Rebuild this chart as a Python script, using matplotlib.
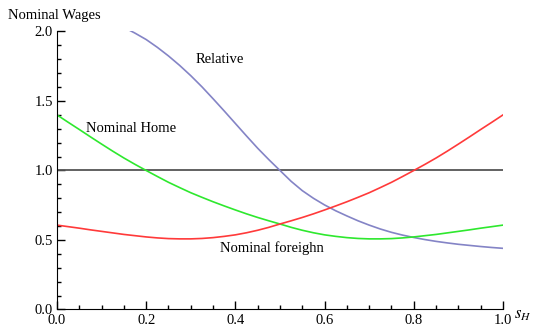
import matplotlib
matplotlib.use("Agg")
import matplotlib.pyplot as plt
from matplotlib.ticker import MultipleLocator

# values, every 0.025 along s_H
s_h = [0.000, 0.025, 0.050, 0.075, 0.100, 0.125, 0.150, 0.175, 0.200, 0.225,
       0.250, 0.275, 0.300, 0.325, 0.350, 0.375, 0.400, 0.425, 0.450, 0.475,
       0.500, 0.525, 0.550, 0.575, 0.600, 0.625, 0.650, 0.675, 0.700, 0.725,
       0.750, 0.775, 0.800, 0.825, 0.850, 0.875, 0.900, 0.925, 0.950, 0.975,
       1.000]
nominal_foreign = [0.607, 0.596, 0.585, 0.573, 0.562, 0.551, 0.540, 0.531, 0.522, 0.515,
                   0.510, 0.508, 0.508, 0.511, 0.517, 0.526, 0.537, 0.552, 0.570, 0.591,
                   0.615, 0.638, 0.662, 0.688, 0.716, 0.745, 0.775, 0.807, 0.840, 0.877,
                   0.915, 0.957, 1.000, 1.044, 1.090, 1.139, 1.190, 1.242, 1.295, 1.347,
                   1.400]
nominal_home = [1.400, 1.347, 1.295, 1.242, 1.190, 1.139, 1.090, 1.044, 1.000, 0.957,
                0.915, 0.877, 0.840, 0.807, 0.775, 0.745, 0.716, 0.688, 0.662, 0.638,
                0.615, 0.591, 0.570, 0.552, 0.537, 0.526, 0.517, 0.511, 0.508, 0.508,
                0.510, 0.515, 0.522, 0.531, 0.540, 0.551, 0.562, 0.573, 0.585, 0.596,
                0.607]
relative = [2.230, 2.200, 2.170, 2.140, 2.105, 2.070, 2.030, 1.988, 1.942, 1.886,
            1.824, 1.756, 1.682, 1.602, 1.516, 1.428, 1.338, 1.248, 1.160, 1.078,
            1.000, 0.922, 0.855, 0.800, 0.752, 0.710, 0.673, 0.638, 0.607, 0.579,
            0.555, 0.535, 0.518, 0.503, 0.490, 0.479, 0.469, 0.461, 0.453, 0.446,
            0.440]
unit_level = 1.0

plt.rcParams['font.family'] = ['Liberation Serif', 'DejaVu Serif']
plt.rcParams['mathtext.fontset'] = 'stix'

fig = plt.figure(figsize=(5.37, 3.29), dpi=100)
ax = fig.add_axes([0.1061, 0.0593, 0.8306, 0.845])

ax.axhline(unit_level, color='#555555', lw=1.3)
ax.plot(s_h, relative, color='#8484c6', lw=1.2)
ax.plot(s_h, nominal_home, color='#2ee82e', lw=1.2)
ax.plot(s_h, nominal_foreign, color='#ff3a3a', lw=1.2)

ax.set_xlim(0, 1.0)
ax.set_ylim(0, 2.0)
ax.spines['top'].set_visible(False)
ax.spines['right'].set_visible(False)
ax.xaxis.set_major_locator(MultipleLocator(0.2))
ax.xaxis.set_minor_locator(MultipleLocator(0.05))
ax.yaxis.set_major_locator(MultipleLocator(0.5))
ax.yaxis.set_minor_locator(MultipleLocator(0.1))
ax.set_xticklabels([f"{v:.1f}" for v in ax.get_xticks()])
ax.set_yticklabels([f"{v:.1f}" for v in ax.get_yticks()])
ax.tick_params(which='both', direction='in', labelsize=10.5, width=1)
ax.tick_params(which='major', length=6, pad=3)
ax.tick_params(which='minor', length=3)

# curve labels
ax.text(0.31, 1.80, "Relative", fontsize=10.5, ha='left', va='center')
ax.text(0.066, 1.305, "Nominal Home", fontsize=10.5, ha='left', va='center')
ax.text(0.365, 0.44, "Nominal foreighn", fontsize=10.5, ha='left', va='center')
fig.text(8 / 537, 1 - 15 / 329, "Nominal Wages", fontsize=10.5, ha='left', va='center')
ax.text(1.025, -0.04, r"$s_H$", fontsize=12, ha='left', va='center')

fig.savefig("out.png", dpi=100)
